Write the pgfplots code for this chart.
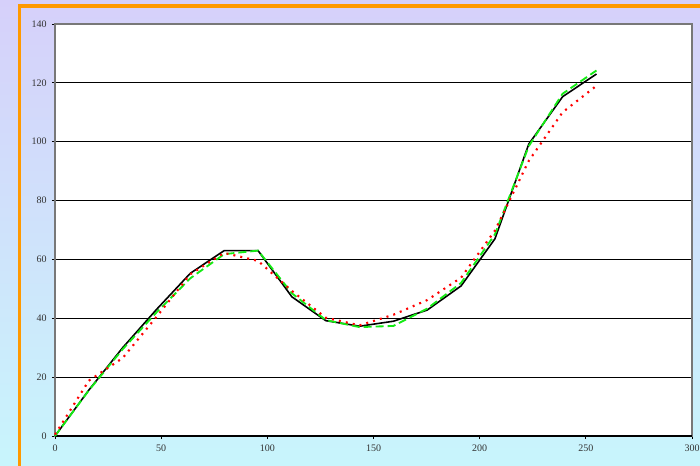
\documentclass[border=0pt]{standalone}
\usepackage{fontspec}
\setmainfont{Liberation Serif}
\usepackage{pgfplots}
\pgfplotsset{compat=1.18}
\definecolor{bgtop}{RGB}{214,208,250}
\definecolor{bgmid}{RGB}{205,235,252}
\definecolor{bgbot}{RGB}{200,245,252}
\definecolor{frameorange}{RGB}{255,153,0}
\definecolor{lgreen}{RGB}{20,235,20}
\definecolor{boxgray}{RGB}{120,120,120}
\begin{document}
\begin{tikzpicture}
\useasboundingbox (0,0) rectangle (525pt,349.5pt);
\shade[top color=bgtop, middle color=bgmid, bottom color=bgbot] (0,0) rectangle (525pt,349.5pt);
\draw[frameorange, line width=2.3pt] (14.6pt,-5pt) -- (14.6pt,345pt) -- (530pt,345pt);
\begin{axis}[
  at={(41.25pt,22.5pt)}, anchor=south west,
  scale only axis, width=477.75pt, height=309pt,
  xmin=0, xmax=300, ymin=0, ymax=140,
  xtick={0,50,...,300}, ytick={0,20,...,140},
  xtick pos=left, ytick pos=left,
  tick align=outside, major tick length=2.3pt,
  tick style={black, line width=0.6pt},
  ymajorgrids, grid style={black, line width=0.7pt},
  axis line style={boxgray, line width=1pt},
  axis background/.style={fill=white},
  /pgf/number format/assume math mode=true,
  ticklabel style={font=\fontsize{7.5pt}{8pt}\selectfont, text=black!80},
  xticklabel style={yshift=-0.5pt},
  yticklabel style={xshift=-0.5pt},
  clip=false,
]
\draw[black, line width=1.1pt] (axis cs:0,0) -- (axis cs:300,0);
\addplot[black, line width=1.2pt] coordinates {
(0,0) (15.94,15.6) (31.88,30) (47.81,43) (63.75,55.3) (79.69,63) (95.63,63)
(111.56,47.3) (127.5,39.2) (143.44,37.3) (159.38,39) (175.31,42.8) (191.25,51)
(207.19,67) (223.13,99.2) (239.06,115.3) (255,123)};
\addplot[lgreen, line width=1.4pt, dash pattern=on 6pt off 3pt] coordinates {
(0,0) (15.94,15.5) (31.88,29.5) (47.81,42) (63.75,53.6) (79.69,61.8) (95.63,63)
(111.56,48.5) (127.5,39.4) (143.44,37) (159.38,37.4) (175.31,43.3) (191.25,52)
(207.19,68.5) (223.13,98.5) (239.06,116.3) (255,124.2)};
\addplot[red, line width=1.6pt, dash pattern=on 1.5pt off 3.8pt] coordinates {
(0,0.5) (15.94,18.8) (31.88,26.5) (47.81,40.5) (63.75,55) (79.69,62.2) (95.63,59.5)
(111.56,49.3) (127.5,40.2) (143.44,37.6) (159.38,41.2) (175.31,46.2) (191.25,53.8)
(207.19,69.8) (223.13,93.5) (239.06,110) (255,119)};
\end{axis}
\end{tikzpicture}
\end{document}
